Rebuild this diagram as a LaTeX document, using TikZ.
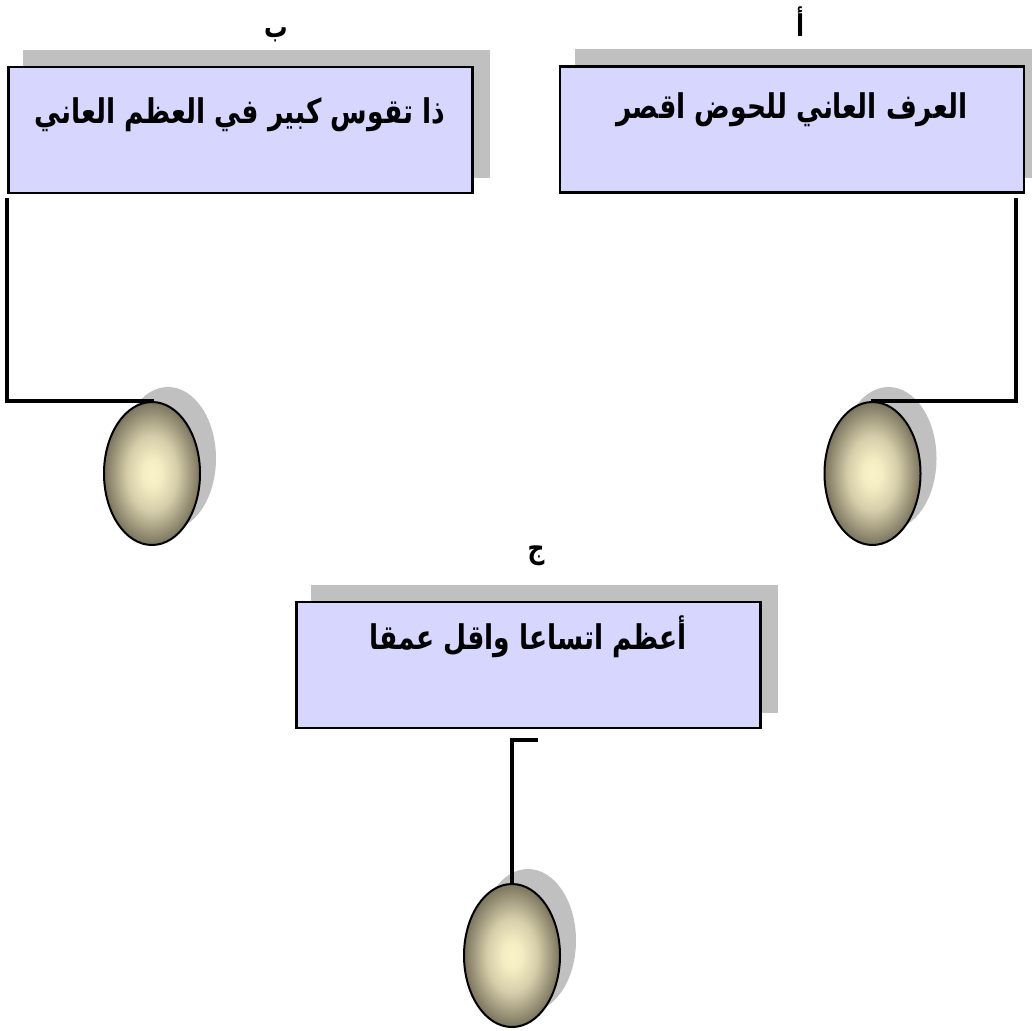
\documentclass[tikz,border=0pt]{standalone}
\usepackage{fontspec}
\TeXXeTstate=1
\newfontfamily\arabicfont[Script=Arabic,FakeStretch=0.78]{DejaVu Sans}
\usetikzlibrary{shapes.geometric,backgrounds}
\definecolor{boxfill}{RGB}{214,214,255}
\definecolor{shadowc}{RGB}{192,192,192}
\definecolor{eggin}{RGB}{251,243,200}
\definecolor{eggin2}{RGB}{244,236,194}
\definecolor{eggmid}{RGB}{214,206,170}
\definecolor{eggout}{RGB}{122,116,94}
\pgfdeclareradialshading{eggshade}{\pgfpoint{0bp}{0bp}}{color(0bp)=(eggin); color(5bp)=(eggin2); color(13bp)=(eggmid); color(25bp)=(eggout); color(50bp)=(eggout)}
\tikzset{
  box/.style={draw=black,line width=2.5pt,fill=boxfill,rectangle,inner sep=0pt,
    minimum width=464pt,minimum height=126pt},
  egg/.style={draw=black,line width=2pt,ellipse,inner sep=0pt,
    minimum width=96pt,minimum height=143pt,shading=eggshade},
  txt/.style={font=\arabicfont\bfseries\fontsize{34}{38}\selectfont,inner sep=0pt},
  lbl/.style={font=\arabicfont\bfseries\fontsize{30}{34}\selectfont,inner sep=0pt},
  conn/.style={line width=4pt,line cap=rect},
}
\begin{document}
\begin{tikzpicture}[x=1pt,y=-1pt]
\useasboundingbox (0,0) rectangle (1032,1030);
% boxes
\node[box] (bB) at (240.5,130) {};
\node[box] (bA) at (792,129.5) {};
\node[box] (bC) at (528.5,665) {};
% eggs
\node[egg] (eB) at (152,473.5) {};
\node[egg] (eA) at (872.5,473.5) {};
\node[egg] (eC) at (512,955.5) {};
% shadows
\begin{scope}[on background layer]
  \foreach \b in {bA,bB,bC}{
    \fill[shadowc] ([shift={(16,-16)}]\b.south west) rectangle ([shift={(16,-16)}]\b.north east);
  }
  \foreach \e in {eA,eB,eC}{
    \fill[shadowc] ([shift={(16,-15)}]\e.center) ellipse [x radius=48, y radius=71.5];
  }
\end{scope}
% texts
\node[txt] (tB) at (240,115) {\beginR ذا تقوس كبير في العظم العاني\endR};
\node[txt] (tA) at (792,110) {\beginR العرف العاني للحوض اقصر\endR};
\node[txt] (tC) at (528,637) {\beginR أعظم اتساعا واقل عمقا\endR};
% labels
\node[lbl] (lB) at (276,35) {\beginR ب\endR};
\node[lbl] (lA) at (800,22) {\beginR أ\endR};
\node[lbl] (lC) at (536,556) {\beginR ج\endR};
% connectors
\draw[conn] ([yshift=-6]bA.south east -| 1016,0) |- (eA.north);
\draw[conn] ([yshift=-6]bB.south west) |- (eB.north);
\coordinate (cC) at (536,740);
\draw[conn] (cC) -| (eC.north);
\end{tikzpicture}
\end{document}
